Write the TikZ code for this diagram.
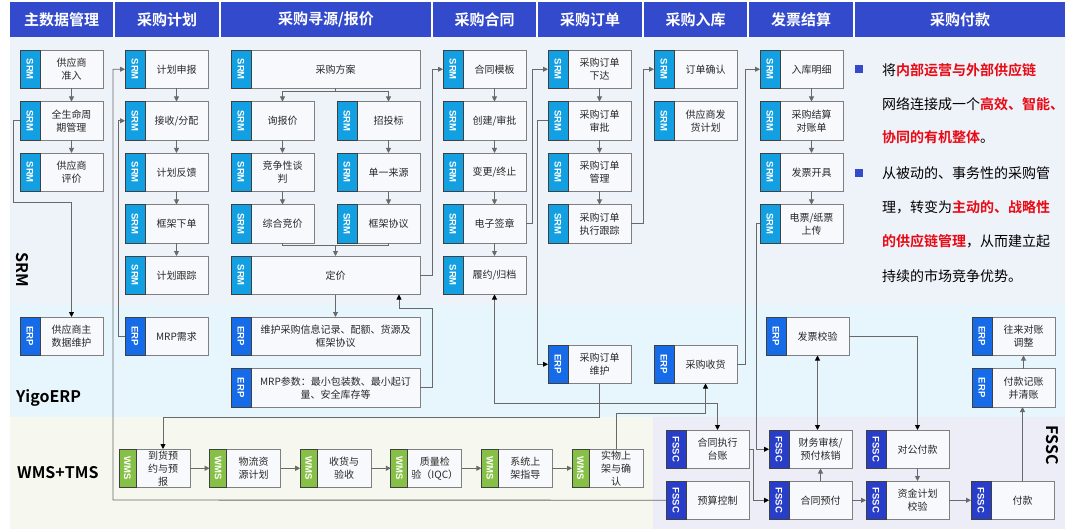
\documentclass[tikz,border=0pt]{standalone}
\usepackage{fontspec}
\setmainfont{Noto Sans CJK SC}[BoldFont={Noto Sans CJK SC Bold}]
\newfontfamily\tagf{Liberation Sans}
\usetikzlibrary{arrows.meta,calc}
\definecolor{hdr}{RGB}{52,74,204}
\definecolor{srmc}{RGB}{18,160,226}
\definecolor{erpc}{RGB}{22,108,232}
\definecolor{wmsc}{RGB}{135,192,70}
\definecolor{fsscc}{RGB}{40,62,200}
\definecolor{bgsrm}{RGB}{238,242,249}
\definecolor{bgerp}{RGB}{230,246,252}
\definecolor{bgwms}{RGB}{246,248,239}
\definecolor{bgfssc}{RGB}{236,237,247}
\definecolor{bdr}{RGB}{128,128,128}
\definecolor{lnc}{RGB}{105,105,105}
\definecolor{txt}{RGB}{40,40,40}
\definecolor{boxf}{RGB}{248,249,252}
\definecolor{redt}{RGB}{232,10,20}
\tikzset{
  mainbox/.style={draw=bdr,line width=0.9pt,fill=boxf,minimum height=38.5pt,inner sep=1pt,outer sep=0pt,align=center,font=\fontsize{10}{13}\selectfont,text=txt},
  tagbox/.style={draw=black!75,line width=0.9pt,minimum height=38.5pt,inner sep=0pt,outer sep=0pt,text=white,font=\tagf\bfseries\fontsize{9.5}{10}\selectfont},
  hdrbox/.style={fill=hdr,text=white,font=\bfseries\fontsize{15}{15}\selectfont,minimum height=35pt,inner sep=0pt,outer sep=0pt,anchor=north west},
  lane/.style={font=\bfseries\fontsize{16}{16}\selectfont,text=black,inner sep=0pt},
  ln/.style={draw=lnc,line width=0.9pt},
  arr/.style={ln,-{Triangle[length=5pt,width=5pt,color=lnc]}},
  arrk/.style={ln,-{Triangle[length=5pt,width=5pt,color=black]}},
  arrkk/.style={ln,{Triangle[length=5pt,width=5pt,color=black]}-{Triangle[length=5pt,width=5pt,color=black]}},
  rtext/.style={anchor=west,inner sep=0pt,font=\fontsize{14}{14}\selectfont,text=black},
  bul/.style={fill=hdr,minimum size=7.5pt,inner sep=0pt},
}
% name, tag text, tag color, x, y, tag width, main width, text
\newcommand\bx[8]{%
  \node[mainbox,minimum width=#7pt,anchor=north west] (#1) at ({#4+#6},#5) {#8};
  \node[tagbox,fill=#3,minimum width=#6pt,anchor=north east] (#1t) at (#1.north west) {\rotatebox{-90}{#2}};
}
\newcommand\rd[1]{{\color{redt}\bfseries #1}}
\begin{document}
\begin{tikzpicture}[x=1pt,y=-1pt]
\useasboundingbox (0,0) rectangle (1080,532);
\fill[white] (0,0) rectangle (1080,532);
% bands
\fill[bgsrm] (10,37) rectangle (1065,305);
\fill[bgerp] (10,305) rectangle (1065,417);
\fill[bgwms] (10,417) rectangle (653,529);
\fill[bgfssc] (653,417) rectangle (1065,529);
% headers
\node[hdrbox,minimum width=103pt] (h1) at (10,2) {主数据管理};
\node[hdrbox,minimum width=104pt] (h2) at (115,2) {采购计划};
\node[hdrbox,minimum width=210pt] (h3) at (221,2) {采购寻源/报价};
\node[hdrbox,minimum width=103pt] (h4) at (433,2) {采购合同};
\node[hdrbox,minimum width=104pt] (h5) at (538,2) {采购订单};
\node[hdrbox,minimum width=103pt] (h6) at (644,2) {采购入库};
\node[hdrbox,minimum width=104pt] (h7) at (749,2) {发票结算};
\node[hdrbox,minimum width=210pt] (h8) at (855,2) {采购付款};
% lane labels
\node[lane,rotate=-90] (lsrm) at (22,270) {SRM};
\node[lane,anchor=west] (lerp) at (16,398) {YigoERP};
\node[lane,anchor=west] (lwms) at (17,473) {WMS+TMS};
\node[lane,rotate=-90] (lfssc) at (1052,445) {FSSC};
% column 1
\bx{c1a}{SRM}{srmc}{20}{50}{20}{63}{供应商\\准入}
\bx{c1b}{SRM}{srmc}{20}{101.5}{20}{63}{全生命周\\期管理}
\bx{c1c}{SRM}{srmc}{20}{153}{20}{63}{供应商\\评价}
\bx{c1e}{ERP}{erpc}{20}{317}{20}{63}{供应商主\\数据维护}
% column 2
\bx{c2a}{SRM}{srmc}{125}{50}{20}{63}{计划申报}
\bx{c2b}{SRM}{srmc}{125}{101.5}{20}{63}{接收/分配}
\bx{c2c}{SRM}{srmc}{125}{153}{20}{63}{计划反馈}
\bx{c2d}{SRM}{srmc}{125}{204.5}{20}{63}{框架下单}
\bx{c2e}{SRM}{srmc}{125}{256}{20}{63}{计划跟踪}
\bx{c2f}{ERP}{erpc}{125}{317}{20}{63}{MRP需求}
% column 3
\bx{c3a}{SRM}{srmc}{231}{50}{20}{169}{采购方案}
\bx{c3b}{SRM}{srmc}{231}{101.5}{20}{63}{询报价}
\bx{c3c}{SRM}{srmc}{337}{101.5}{20}{63}{招投标}
\bx{c3d}{SRM}{srmc}{231}{153}{20}{63}{竞争性谈\\判}
\bx{c3e}{SRM}{srmc}{337}{153}{20}{63}{单一来源}
\bx{c3f}{SRM}{srmc}{231}{204.5}{20}{63}{综合竞价}
\bx{c3g}{SRM}{srmc}{337}{204.5}{20}{63}{框架协议}
\bx{c3h}{SRM}{srmc}{231}{256}{20}{169}{定价}
\bx{c3i}{ERP}{erpc}{231}{317}{20}{169}{维护采购信息记录、配额、货源及\\框架协议}
\bx{c3j}{ERP}{erpc}{231}{368.5}{20}{169}{MRP参数：最小包装数、最小起订\\量、安全库存等}
% column 4
\bx{c4a}{SRM}{srmc}{443}{50}{20}{63}{合同模板}
\bx{c4b}{SRM}{srmc}{443}{101.5}{20}{63}{创建/审批}
\bx{c4c}{SRM}{srmc}{443}{153}{20}{63}{变更/终止}
\bx{c4d}{SRM}{srmc}{443}{204.5}{20}{63}{电子签章}
\bx{c4e}{SRM}{srmc}{443}{256}{20}{63}{履约/归档}
% column 5
\bx{c5a}{SRM}{srmc}{548}{50}{20}{63}{采购订单\\下达}
\bx{c5b}{SRM}{srmc}{548}{101.5}{20}{63}{采购订单\\审批}
\bx{c5c}{SRM}{srmc}{548}{153}{20}{63}{采购订单\\管理}
\bx{c5d}{SRM}{srmc}{548}{204.5}{20}{63}{采购订单\\执行跟踪}
\bx{c5e}{ERP}{erpc}{548}{345}{20}{63}{采购订单\\维护}
% column 6
\bx{c6a}{SRM}{srmc}{654}{50}{20}{63}{订单确认}
\bx{c6b}{SRM}{srmc}{654}{101.5}{20}{63}{供应商发\\货计划}
\bx{c6c}{ERP}{erpc}{654}{345}{20}{63}{采购收货}
% column 7
\bx{c7a}{SRM}{srmc}{760}{50}{20}{63}{入库明细}
\bx{c7b}{SRM}{srmc}{760}{101.5}{20}{63}{采购结算\\对账单}
\bx{c7c}{SRM}{srmc}{760}{153}{20}{63}{发票开具}
\bx{c7d}{SRM}{srmc}{760}{204.5}{20}{63}{电票/纸票\\上传}
\bx{c7e}{ERP}{erpc}{766}{317}{20}{63}{发票校验}
% column 8
\bx{c8a}{ERP}{erpc}{972}{317}{20}{63}{往来对账\\调整}
\bx{c8b}{ERP}{erpc}{972}{368.5}{20}{63}{付款记账\\并清账}
% FSSC
\bx{f1}{FSSC}{fsscc}{666}{430}{20}{63}{合同执行\\台账}
\bx{f2}{FSSC}{fsscc}{666}{481}{20}{63}{预算控制}
\bx{f3}{FSSC}{fsscc}{769}{430}{20}{63}{财务审核/\\预付核销}
\bx{f4}{FSSC}{fsscc}{769}{481}{20}{63}{合同预付}
\bx{f5}{FSSC}{fsscc}{866}{430}{20}{63}{对公付款}
\bx{f6}{FSSC}{fsscc}{866}{481}{20}{63}{资金计划\\校验}
\bx{f7}{FSSC}{fsscc}{971}{481}{20}{63}{付款}
% WMS
\begin{scope}[every node/.append style={font=\fontsize{9.5}{12}\selectfont}]
\bx{w1}{WMS}{wmsc}{119}{449}{17}{54}{到货预\\约与预\\报}
\bx{w2}{WMS}{wmsc}{209.6}{449}{17}{54}{物流资\\源计划}
\bx{w3}{WMS}{wmsc}{300.2}{449}{17}{54}{收货与\\验收}
\bx{w4}{WMS}{wmsc}{390.8}{449}{17}{54}{质量检\\验（IQC）}
\bx{w5}{WMS}{wmsc}{481.4}{449}{17}{54}{系统上\\架指导}
\bx{w6}{WMS}{wmsc}{572}{449}{17}{54}{实物上\\架与确\\认}
\end{scope}
% right text
\node[bul] (b1) at (859,69) {};
\node[bul] (b2) at (859,173) {};
\node[rtext] (t1) at (882,70) {将\rd{内部运营与外部供应链}};
\node[rtext] (t2) at (882,104) {网络连接成一个\rd{高效、智能、}};
\node[rtext] (t3) at (882,137) {\rd{协同的有机整体}。};
\node[rtext] (t4) at (882,173) {从被动的、事务性的采购管};
\node[rtext] (t5) at (882,207) {理，转变为\rd{主动的、战略性}};
\node[rtext] (t6) at (882,241) {\rd{的供应链管理}，从而建立起};
\node[rtext] (t7) at (882,276) {持续的市场竞争优势。};
% coordinates
\coordinate (k1) at (13,202);
\coordinate (k2) at (113,500);
\coordinate (k3) at (399,308);
% connectors column 1
\draw[arr] (c1a.south) -- (c1b.north);
\draw[arr] (c1b.south) -- (c1c.north);
\draw[arrk] (c1bt.west) -| (k1) -| (c1e.north);
% column 2
\draw[arr] (c2a.south) -- (c2b.north);
\draw[arr] (c2b.south) -- (c2c.north);
\draw[arr] (c2c.south) -- (c2d.north);
\draw[arr] (c2d.south) -- (c2e.north);
\draw[arr] (f2t.west) -- (k2) |- (c2at.west);
\draw[arr] (c2ft.west) -- ++(-7,0) |- (c2bt.west);
% column 3
\draw[ln] (c3a.south) -- ++(0,2.5) coordinate (s1);
\draw[arr] (s1) -| (c3b.north);
\draw[arr] (s1) -| (c3c.north);
\draw[arr] (c3b.south) -- (c3d.north);
\draw[arr] (c3d.south) -- (c3f.north);
\draw[arr] (c3c.south) -- (c3e.north);
\draw[arr] (c3e.south) -- (c3g.north);
\draw[ln] (c3f.south) -- ++(0,2.5) -| (c3g.south);
\draw[arr] ($(c3h.north |- c3f.south)+(0,2.5)$) -- (c3h.north);
\draw[arr] (c3h.east) -- ++(12,0) |- (c4at.west);
\draw[arr] (c3h.south) -- (c3i.north);
\draw[arrk] (c3j.east) -- ++(12,0) |- (k3) -- (k3 |- c3h.south);
% column 4
\draw[arr] (c4a.south) -- (c4b.north);
\draw[arr] (c4b.south) -- (c4c.north);
\draw[arr] (c4c.south) -- (c4d.north);
\draw[arr] (c4d.south) -- (c4e.north);
\draw[arr] (c4d.east) -- ++(6,0) |- (c5at.west);
\draw[arrkk] (c4e.south) -- ++(0,108.5) -| (f1.north);
% column 5
\draw[arr] (c5a.south) -- (c5b.north);
\draw[arr] (c5b.south) -- (c5c.north);
\draw[arr] (c5c.south) -- (c5d.north);
\draw[arrk] (c5bt.west) -- ++(-11,0) |- (c5et.west);
\draw[arr] (c5d.east) -- ++(12,0) |- (c6at.west);
\draw[arrk] (c5e.south) -- ++(0,34) -| (w1.north);
% column 6
\draw[arr] (c6c.east) -- ++(8,0) |- (c7at.west);
\draw[arrk] (w6.north) -- ++(0,-36) -| (c6c.south);
% column 7
\draw[arr] (c7a.south) -- (c7b.north);
\draw[arr] (c7b.south) -- (c7c.north);
\draw[arr] (c7c.south) -- (c7d.north);
\draw[arrk] (c7dt.west) -- ++(-4,0) |- (f3t.west);
\draw[arrkk] (c7e.south) -- (c7e.south |- f3.north);
\draw[arrk] (c7e.east) -| (f5.north);
% FSSC
\draw[arrk] (f1.east) -- ++(4,0) |- (f4t.west);
\draw[arr] (f4.north -| f3.south) -- (f3.south);
\draw[arr] (f4.east) -- (f6t.west);
\draw[arr] (f5.south) -- (f6.north);
\draw[arr] (f6.east) -- (f7t.west);
\draw[arr] (f7.north) -- (f7.north |- c8b.south);
\draw[arr] (c8b.north) -- (c8a.south);
% WMS
\draw[arr] (w1.east) -- (w2t.west);
\draw[arr] (w2.east) -- (w3t.west);
\draw[arr] (w3.east) -- (w4t.west);
\draw[arr] (w4.east) -- (w5t.west);
\draw[arr] (w5.east) -- (w6t.west);
\end{tikzpicture}
\end{document}
